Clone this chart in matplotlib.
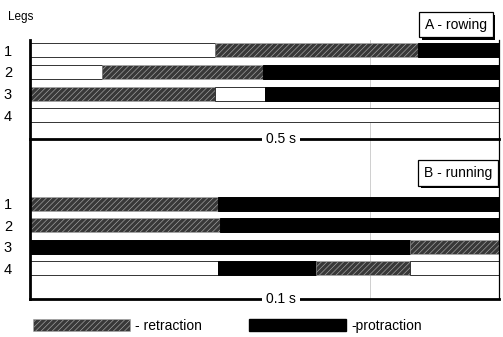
import matplotlib
matplotlib.use('Agg')
import matplotlib.pyplot as plt
import matplotlib.patheffects as pe
from matplotlib.patches import Patch

plt.rcParams['font.family'] = ['Liberation Sans', 'DejaVu Sans']
plt.rcParams['hatch.linewidth'] = 0.45

# step cycle phases per leg, times in ms
legs = ['1', '2', '3', '4']

rowing_bounds = [[0, 197, 414, 500],
                 [0, 77, 248, 500],
                 [0, 197, 250, 500],
                 [0, 500]]
rowing_phases = [['none', 'ret', 'pro'],
                 ['none', 'ret', 'pro'],
                 ['ret', 'none', 'pro'],
                 ['none']]

running_bounds = [[0, 40, 100],
                  [0, 40.5, 100],
                  [0, 81, 100],
                  [0, 40, 61, 81, 100]]
running_phases = [['ret', 'pro'],
                  ['ret', 'pro'],
                  ['pro', 'ret'],
                  ['none', 'pro', 'ret', 'none']]

styles = {
    'none': dict(facecolor='white', edgecolor='#333333', linewidth=0.7),
    'ret': dict(facecolor='#383838', edgecolor='#a8a8a8', hatch='//////', linewidth=0.4),
    'pro': dict(facecolor='black', edgecolor='black', linewidth=0.7),
}

W, H = 503, 337
fig = plt.figure(figsize=(W / 100, H / 100), dpi=100)


def frame(l, t, r, b):
    return [l / W, 1 - b / H, (r - l) / W, (b - t) / H]


def draw_panel(ax, bounds, phases, span, ylim, height, scale_label):
    ax.patch.set_visible(False)
    for i, (b, p) in enumerate(zip(bounds, phases)):
        for j in range(len(p)):
            ax.barh(i, b[j + 1] - b[j], left=b[j], height=height, **styles[p[j]])
    ax.set_xlim(0, span)
    ax.set_ylim(*ylim)
    ax.set_xticks([])
    ax.set_yticks(range(len(legs)))
    ax.set_yticklabels(legs, fontsize=10.5)
    ax.tick_params(axis='y', length=0, pad=13)
    ax.spines['top'].set_visible(False)
    ax.spines['left'].set_linewidth(2.0)
    ax.spines['right'].set_linewidth(0.9)
    ax.spines['bottom'].set_linewidth(2.0)
    ax.text(0.535, 0, scale_label, transform=ax.transAxes, ha='center', va='center',
            fontsize=10, zorder=5, clip_on=False,
            bbox=dict(facecolor='white', edgecolor='none', pad=3))


axA = fig.add_axes(frame(30, 40, 499, 139))
axB = fig.add_axes(frame(30, 139, 499, 299))
axA.set_zorder(2)
draw_panel(axA, rowing_bounds, rowing_phases, 500, (4.08, -0.46), 0.64, '0.5 s')
draw_panel(axB, running_bounds, running_phases, 100, (4.42, -3.02), 0.65, '0.1 s')

# faint fold line in the scan
axA.axvline(362, color='#c8c8c8', lw=0.6, zorder=0.5)
axB.axvline(72.4, color='#c8c8c8', lw=0.6, zorder=0.5)

fig.text(8 / W, 1 - 17 / H, 'Legs', fontsize=8.5, va='center')

for label, cx, cy in [('A - rowing', 456, 24.5), ('B - running', 458, 173)]:
    t = fig.text(cx / W, 1 - cy / H, label, ha='center', va='center', fontsize=10, zorder=6,
                 bbox=dict(boxstyle='square,pad=0.4', facecolor='white', edgecolor='black', lw=0.9))
    t.get_bbox_patch().set_path_effects([
        pe.SimplePatchShadow(offset=(2, -2), shadow_rgbFace='black', alpha=1.0),
        pe.Normal()])

handles = [Patch(**styles['ret']), Patch(facecolor='black', edgecolor='black')]
fig.legend(handles, ['- retraction', '-protraction'], loc='center left',
           bbox_to_anchor=(33 / W, 1 - 326 / H), ncol=2, frameon=False, fontsize=10,
           handlelength=7.0, handleheight=1.0, handletextpad=0.35, columnspacing=3.4,
           borderpad=0, borderaxespad=0)

fig.savefig('out.png', dpi=100)
